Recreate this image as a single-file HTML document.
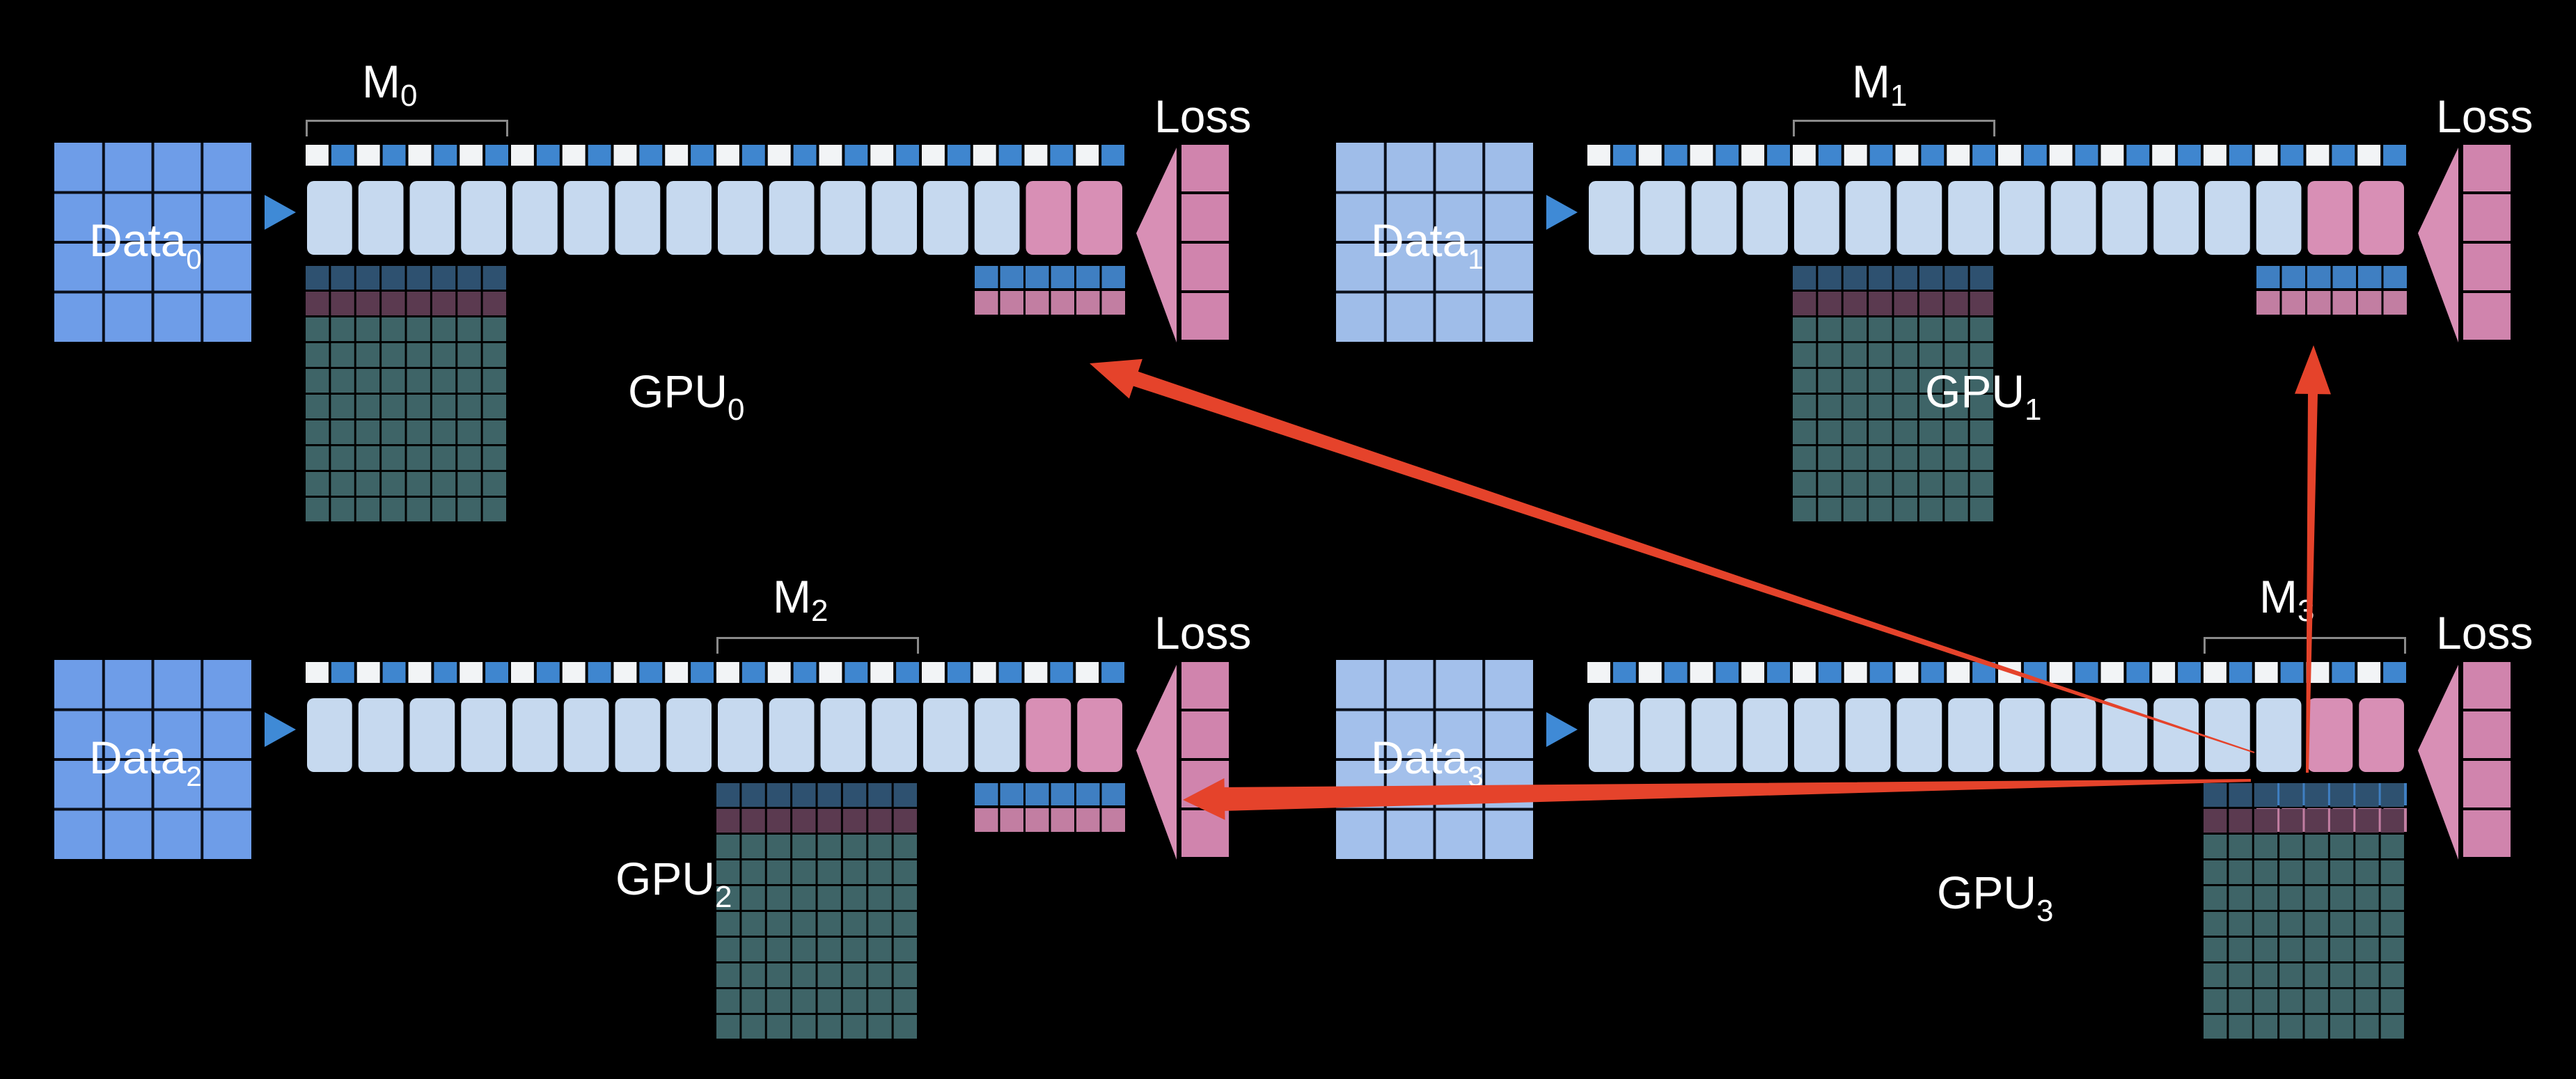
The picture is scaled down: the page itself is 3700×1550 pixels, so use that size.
<!DOCTYPE html>
<html><head><meta charset="utf-8"><style>
html,body{margin:0;padding:0;background:#000;}
svg{display:block}
text{font-family:"Liberation Sans",sans-serif;fill:#fff}
</style></head><body>
<svg id="s" width="3700" height="1550" viewBox="0 0 3700 1550" xmlns="http://www.w3.org/2000/svg">
<rect width="3700" height="1550" fill="#000"/>
<g id="g"></g>
<!-- labels -->
<g font-size="66">
<text x="520" y="140">M<tspan font-size="44" dy="12">0</tspan></text>
<text x="2660" y="140">M<tspan font-size="44" dy="12">1</tspan></text>
<text x="1110" y="880">M<tspan font-size="44" dy="12">2</tspan></text>
<text x="3245" y="880">M<tspan font-size="44" dy="12">3</tspan></text>
<text x="1658" y="190">Loss</text>
<text x="3499" y="190">Loss</text>
<text x="1658" y="932">Loss</text>
<text x="3499" y="932">Loss</text>
<text x="902" y="585">GPU<tspan font-size="44" dy="18">0</tspan></text>
<text x="2765" y="585">GPU<tspan font-size="44" dy="18">1</tspan></text>
<text x="884" y="1285">GPU<tspan font-size="44" dy="18">2</tspan></text>
<text x="2782" y="1305">GPU<tspan font-size="44" dy="18">3</tspan></text>
<text x="128" y="368">Data<tspan font-size="40" dy="18">0</tspan></text>
<text x="1969" y="368">Data<tspan font-size="40" dy="18">1</tspan></text>
<text x="128" y="1111">Data<tspan font-size="40" dy="18">2</tspan></text>
<text x="1969" y="1111">Data<tspan font-size="40" dy="18">3</tspan></text>
</g>
<g id="arrows"></g>
</svg>
<script>
var NS="http://www.w3.org/2000/svg";
var g=document.getElementById('g');
function R(x,y,w,h,f,rx){var r=document.createElementNS(NS,'rect');r.setAttribute('x',x);r.setAttribute('y',y);r.setAttribute('width',w);r.setAttribute('height',h);r.setAttribute('fill',f);if(rx)r.setAttribute('rx',rx);g.appendChild(r);}
function P(d,f,par){var p=document.createElementNS(NS,'path');p.setAttribute('d',d);p.setAttribute('fill',f);(par||g).appendChild(p);}
function panel(ox,oy,i,dataCol){
  // data box
  R(ox+78,oy+205,283,286,dataCol);
  for(var k=1;k<4;k++){R(ox+78+k*70.75-2,oy+205,4,286,'#0a0f1a');R(ox+78,oy+205+k*71.5-2,283,4,'#0a0f1a');}
  // input arrow
  P('M'+(ox+380)+' '+(oy+280)+' L'+(ox+425)+' '+(oy+305)+' L'+(ox+380)+' '+(oy+330)+' Z','#3f8ad6');
  // stripe
  var sx=ox+439,w=1180/32;
  for(var k=0;k<32;k++){R(sx+k*w,oy+208,w-4,30,k%2?'#3f86cf':'#f2f4f6');}
  // layers
  var lw=1180/16;
  for(var k=0;k<16;k++){R(sx+k*lw+2,oy+260,lw-9,106,k>=14?'#d88fb5':'#c6d9ef',10);}
  // bracket
  var bx=sx+i*4*lw,bw=4*lw-4;
  P('M'+bx+' '+(oy+196)+' L'+bx+' '+(oy+172)+' L'+(bx+bw)+' '+(oy+172)+' L'+(bx+bw)+' '+(oy+196)+' L'+(bx+bw-3)+' '+(oy+196)+' L'+(bx+bw-3)+' '+(oy+175)+' L'+(bx+3)+' '+(oy+175)+' L'+(bx+3)+' '+(oy+196)+' Z','#8a8a8a');
  // small blocks
  var cw=219/6;
  for(var k=0;k<6;k++){R(1400+ox+k*cw,oy+382,cw-3,32,'#3f7fc2');R(1400+ox+k*cw,oy+418,cw-3,34,'#c27ea2');}
  // memory grid
  var mw=bw/8;
  for(var r=0;r<10;r++){var c=r==0?'#2e5170':(r==1?'#5b3a50':'#3e6467');
    for(var k=0;k<8;k++)R(bx+k*mw,oy+382+r*37,mw-3,34,c);}
  // loss triangle
  P('M'+(ox+1632)+' '+(oy+335)+' L'+(ox+1690)+' '+(oy+212)+' L'+(ox+1690)+' '+(oy+492)+' Z','#d88fb5');
  // loss column
  for(var k=0;k<4;k++)R(ox+1697,oy+208+k*71,68,67,'#d084ad');
}
panel(0,0,0,'#6e9de8');
panel(1841,0,1,'#9fbde9');
panel(0,743,2,'#6e9de8');
panel(1841,743,3,'#a3c0eb');
// arrows
var a=document.getElementById('arrows');
function arrow(x1,y1,x2,y2,w1,w2,hl,hw){
  var dx=x2-x1,dy=y2-y1,L=Math.hypot(dx,dy),ux=dx/L,uy=dy/L,nx=-uy,ny=ux;
  var bx=x2-ux*hl,by=y2-uy*hl;
  var d='M'+(x1+nx*w1/2)+' '+(y1+ny*w1/2)+' L'+(bx+nx*w2/2)+' '+(by+ny*w2/2)+' L'+(bx+nx*hw/2)+' '+(by+ny*hw/2)+' L'+x2+' '+y2+' L'+(bx-nx*hw/2)+' '+(by-ny*hw/2)+' L'+(bx-nx*w2/2)+' '+(by-ny*w2/2)+' L'+(x1-nx*w1/2)+' '+(y1-ny*w1/2)+' Z';
  P(d,'#e5432b',a);
}
arrow(3238,1081,1565,522,2,22,70,60);
arrow(3314,1110,3323,496,4,14,70,52);
arrow(3233,1121,1699,1149,4,34,60,60);
</script>
</body></html>
